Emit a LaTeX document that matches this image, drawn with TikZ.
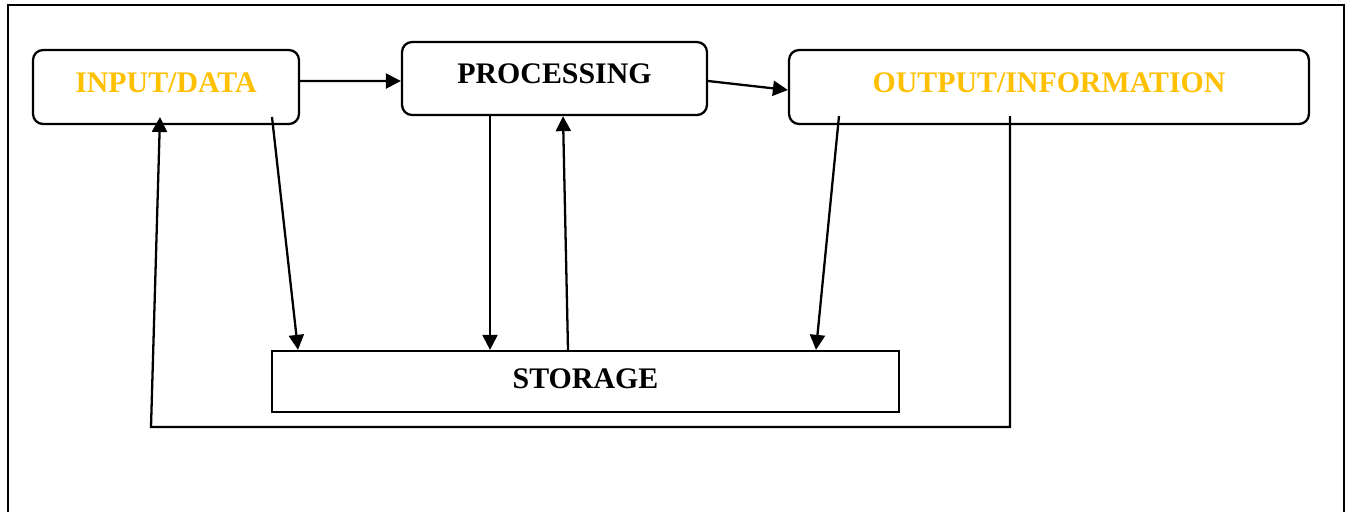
\documentclass[tikz,border=0pt]{standalone}
\usepackage{fontspec}
\setmainfont{Liberation Serif}
\usetikzlibrary{positioning, calc, arrows.meta}
\definecolor{gold}{HTML}{FFC000}
\begin{document}
\begin{tikzpicture}[x=0.02cm, y=-0.02cm, line width=1.3pt,
	>={Triangle[length=0.3cm, width=0.3cm]},
	box/.style={draw, line width=1.3pt, rounded corners=0.2cm, text depth=0.18cm, font=\fontsize{17}{19}\selectfont\bfseries}]
			\useasboundingbox (0,0) rectangle (1349,512);
			\draw [line width=1pt] (8,512) -- (8,5) -- (1344,5) -- (1344,512);
			
			\node (in) [box, text=gold, minimum width=5.32cm, minimum height=1.48cm] at (166,87) {INPUT/DATA};
			\node (pr) [box, minimum width=6.1cm, minimum height=1.46cm] at (554.5,78.5) {PROCESSING};
			\node (out) [box, text=gold, minimum width=10.4cm, minimum height=1.48cm] at (1049,87) {OUTPUT/INFORMATION};
			\node (st) [box, rounded corners=0pt, text depth=0.12cm, minimum width=12.54cm, minimum height=1.22cm] at (585.5,381.5) {STORAGE};
			
			\draw [->] ($(in.east)+(0,-6)$) -- ($(pr.west)+(0,2.5)$);
			\draw [->] ($(pr.east)+(0,2.5)$) -- ($(out.west)+(0,3)$);
			
			\draw [->] ($(in)+(106,30)$) -- ($(st.north)+(-287.5,0)$);
			\draw [->] ($(pr.south)+(-64.5,0)$) -- ($(st.north)+(-95.5,0)$);
			\draw [->] ($(st.north)+(-17.5,0)$) -- ($(pr.south)+(8.5,0)$);
			\draw [->] ($(out)+(-210,29)$) -- ($(st.north)+(230.5,0)$);
			
			\coordinate (fb) at (151,427);
			\draw [->] ($(out)+(-39,29)$) |- (fb) -- ($(in)+(-6,30)$);
		\end{tikzpicture}
\end{document}
